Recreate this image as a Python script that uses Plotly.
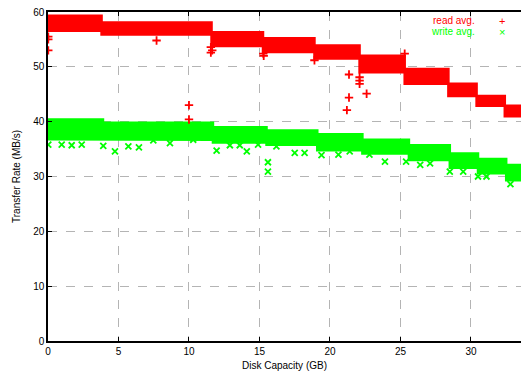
import plotly.graph_objects as go

# ---- data ----
read_x_start = [0.0, 3.8, 11.6, 15.25, 18.9, 22.1, 25.3, 28.4, 30.4, 32.4]
read_x_end = [3.8, 11.6, 15.25, 18.9, 22.1, 25.3, 28.4, 30.4, 32.4, 33.55]
read_top = [59.3, 58.1, 56.3, 55.2, 53.9, 52.0, 49.6, 46.9, 44.7, 42.9]
read_bottom = [56.6, 55.9, 53.8, 52.7, 51.5, 49.0, 46.9, 44.7, 42.9, 41.0]

write_x_start = [0.0, 3.9, 11.7, 15.5, 19.1, 22.3, 25.6, 28.5, 30.5, 32.5]
write_x_end = [3.9, 11.7, 15.5, 19.1, 22.3, 25.6, 28.5, 30.5, 32.5, 33.55]
write_top = [40.4, 39.8, 39.0, 38.4, 37.7, 36.7, 35.7, 34.2, 33.2, 32.1]
write_bottom = [36.8, 36.7, 36.2, 35.8, 34.8, 34.2, 33.0, 31.6, 30.6, 29.3]

read_out_x = [0.02, 0.02, 0.02, 7.7, 10.0, 10.0, 11.55, 11.55, 11.65, 15.27, 15.3,
              18.9, 21.35, 21.35, 21.2, 22.1, 22.1, 22.1, 22.6, 25.3]
read_out_y = [55.5, 55.0, 53.0, 54.8, 43.0, 40.4, 53.6, 52.6, 53.0, 52.4, 52.0,
              51.2, 48.6, 44.4, 42.1, 48.1, 47.5, 46.9, 45.1, 52.4]

write_out_x = [0.02, 0.97, 1.68, 2.39, 3.92, 4.75, 5.7, 6.45, 7.47, 8.65, 10.3,
               11.96, 12.9, 13.6, 14.1, 14.9, 15.6, 15.6, 16.2, 17.5, 18.2, 19.4,
               20.6, 21.4, 22.8, 23.9, 25.4, 26.4, 27.1, 28.5, 29.45, 30.5, 31.1, 32.8]
write_out_y = [35.8, 35.8, 35.7, 35.8, 35.6, 34.6, 35.5, 35.3, 36.6, 36.1, 36.7,
               34.7, 35.7, 35.7, 34.6, 35.8, 32.6, 30.9, 35.5, 34.3, 34.3, 33.9,
               34.0, 34.6, 34.0, 32.7, 32.7, 32.1, 32.4, 30.9, 30.9, 30.0, 30.0, 28.6]

x_ticks = [0, 5, 10, 15, 20, 25, 30]
y_ticks = [0, 10, 20, 30, 40, 50, 60]
x_range = [0, 33.55]
y_range = [0, 60]

RED = "#ff0000"
GREEN = "#00ff00"
FONT = "Liberation Sans, Arial, sans-serif"


def band(xs, xe, top, bot):
    px, py = [], []
    for a, b, t in zip(xs, xe, top):
        px += [a, b]
        py += [t, t]
    for a, b, lo in reversed(list(zip(xs, xe, bot))):
        px += [b, a]
        py += [lo, lo]
    px.append(px[0])
    py.append(py[0])
    return px, py


fig = go.Figure()

wx, wy = band(write_x_start, write_x_end, write_top, write_bottom)
fig.add_trace(go.Scatter(x=wx, y=wy, mode="lines", fill="toself",
                         fillcolor=GREEN, line=dict(color=GREEN, width=2.5),
                         hoverinfo="skip", showlegend=False))
fig.add_trace(go.Scatter(x=write_out_x, y=write_out_y, mode="markers",
                         marker=dict(symbol="x-thin", size=6, color=GREEN,
                                     line=dict(color=GREEN, width=1.8)),
                         showlegend=False))

rx, ry = band(read_x_start, read_x_end, read_top, read_bottom)
fig.add_trace(go.Scatter(x=rx, y=ry, mode="lines", fill="toself",
                         fillcolor=RED, line=dict(color=RED, width=2.5),
                         hoverinfo="skip", showlegend=False))
fig.add_trace(go.Scatter(x=read_out_x, y=read_out_y, mode="markers",
                         marker=dict(symbol="cross-thin", size=6, color=RED,
                                     line=dict(color=RED, width=1.8)),
                         showlegend=False))

axis_common = dict(showgrid=True, gridcolor="#b4b4b4", gridwidth=1, griddash="dash",
                   zeroline=False, showline=True, linecolor="black", linewidth=1.5,
                   ticks="inside", ticklen=4, tickcolor="black", tickwidth=1,
                   tickfont=dict(family=FONT, size=10, color="black"))

fig.update_xaxes(range=x_range, tickvals=x_ticks, ticktext=[str(v) for v in x_ticks],
                 mirror="ticks",
                 title=dict(text="Disk Capacity (GB)", standoff=6,
                            font=dict(family=FONT, size=10, color="black")),
                 **axis_common)
fig.update_yaxes(range=y_range, tickvals=y_ticks, ticktext=[str(v) for v in y_ticks],
                 title=dict(text="Transfer Rate (MB/s)", standoff=11,
                            font=dict(family=FONT, size=10, color="black")),
                 **axis_common)

fig.add_annotation(xref="paper", yref="paper", x=0.908, y=0.973, xanchor="right",
                   yanchor="middle", showarrow=False, text="read avg.",
                   font=dict(family=FONT, size=10, color=RED))
fig.add_annotation(xref="paper", yref="paper", x=0.908, y=0.94, xanchor="right",
                   yanchor="middle", showarrow=False, text="write avg.",
                   font=dict(family=FONT, size=10, color=GREEN))
fig.add_annotation(xref="paper", yref="paper", x=0.96, y=0.973, xanchor="center",
                   yanchor="middle", showarrow=False, text="+",
                   font=dict(family=FONT, size=11, color=RED))
fig.add_annotation(xref="paper", yref="paper", x=0.96, y=0.94, xanchor="center",
                   yanchor="middle", showarrow=False, text="×",
                   font=dict(family=FONT, size=11, color=GREEN))

fig.update_layout(width=521, height=372,
                  margin=dict(l=48, r=0, t=12, b=31),
                  plot_bgcolor="white", paper_bgcolor="white",
                  showlegend=False)

fig.write_html("out.html", config={"displayModeBar": False},
               post_script="document.body.style.margin='0px';document.body.style.overflow='hidden';")
